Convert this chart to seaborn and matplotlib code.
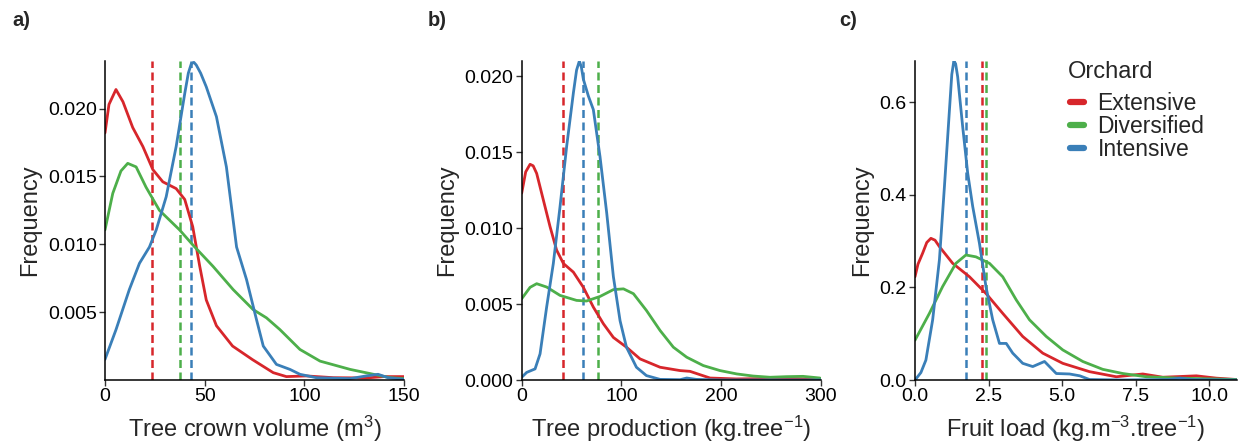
import numpy as np
import pandas as pd
import matplotlib
matplotlib.use("Agg")
import matplotlib.pyplot as plt
from matplotlib.lines import Line2D
import seaborn as sns

# ---------------- data ----------------
orchards = ["Extensive", "Diversified", "Intensive"]
colors = {"Extensive": "#D7262B", "Diversified": "#4DAF4A", "Intensive": "#3A7FB8"}

# Panel a: tree crown volume
a_ext_x = [0, 2, 5.5, 9, 13.9, 19, 24, 29, 35.7, 40, 44, 47.5, 50.8, 55.9, 64, 74, 84.4, 91, 101, 114.6, 131, 140, 150]
a_ext_y = [0.0182, 0.0203, 0.0214, 0.0205, 0.0186, 0.0172, 0.0155, 0.0146, 0.0141, 0.0133, 0.0113, 0.0084, 0.0059, 0.0040, 0.0025, 0.0015, 0.00054, 0.00025, 0.0003, 0.00017, 0.00015, 0.00025, 0.00025]
a_div_x = [0, 3.9, 8, 11.4, 15.6, 20.6, 27.3, 37.4, 44, 54.2, 64.3, 74.3, 81, 87.7, 97.8, 107.9, 123, 134.7, 143, 150]
a_div_y = [0.01106, 0.01375, 0.0154, 0.01596, 0.0157, 0.0142, 0.0125, 0.01106, 0.00996, 0.00837, 0.00666, 0.00519, 0.00458, 0.00372, 0.00225, 0.00139, 0.00078, 0.00042, 0.00017, 0.0001]
a_int_x = [0, 5.5, 12.2, 17.3, 22.3, 25.7, 30.7, 35.7, 40, 41.8, 43.3, 44.6, 45.8, 48, 50.8, 55.9, 60.9, 66, 71, 76, 79.4, 86, 92.8, 97.8, 106, 123, 131, 137, 142, 150]
a_int_y = [0.00152, 0.0037, 0.00666, 0.0086, 0.0098, 0.01106, 0.0135, 0.0172, 0.0211, 0.0226, 0.0233, 0.0234, 0.0232, 0.0226, 0.0216, 0.0194, 0.0157, 0.0098, 0.0074, 0.00445, 0.0025, 0.00115, 0.00078, 0.00042, 0.00017, 0.0001, 0.0003, 0.00042, 0.00017, 0.00005]
a_means = [23.8, 37.4, 43.3]

# Panel b: tree production
b_ext_x = [0, 4, 8.4, 11.5, 15, 21.7, 28.4, 35, 41.8, 51.8, 61.8, 71.8, 81.9, 91.9, 105, 118.6, 138.7, 158.7, 168.7, 178.7, 188.8, 215, 265.6, 299]
b_ext_y = [0.0123, 0.0137, 0.0142, 0.0141, 0.0136, 0.01185, 0.0101, 0.00855, 0.00767, 0.0071, 0.0061, 0.0048, 0.0037, 0.0028, 0.00216, 0.00139, 0.00084, 0.00062, 0.00057, 0.00035, 0.00013, 0.00007, 0.00011, 0.00004]
b_div_x = [0, 8.4, 15, 25, 38.4, 55, 65, 78.5, 91.9, 102, 112, 125, 138.7, 152, 165.4, 182, 198.8, 215.5, 232, 249, 265.6, 282, 299]
b_div_y = [0.00535, 0.0061, 0.00634, 0.00612, 0.00557, 0.00524, 0.0052, 0.0055, 0.00595, 0.0060, 0.00568, 0.00458, 0.00326, 0.00216, 0.0015, 0.00095, 0.00062, 0.0004, 0.00026, 0.00018, 0.00022, 0.00024, 0.00013]
b_int_x = [0, 5, 13.4, 18.4, 25, 31.7, 38.4, 45.1, 51.8, 55, 57.8, 59.8, 61.8, 66.8, 71.8, 78.5, 85.2, 91.9, 98.6, 105, 115, 125, 138.7, 158.7, 165.4, 175, 198.8, 300]
b_int_y = [0.00018, 0.0005, 0.00073, 0.00172, 0.0048, 0.00767, 0.0114, 0.0154, 0.0189, 0.0204, 0.0210, 0.0206, 0.0198, 0.0187, 0.0178, 0.0147, 0.0110, 0.0068, 0.0039, 0.00216, 0.00084, 0.00029, 0.00004, 0.00002, 0.00013, 0.00004, 0.0, 0.0]
b_means = [41.8, 76.2, 61.8]

# Panel c: fruit load
c_ext_x = [0, 0.1, 0.26, 0.4, 0.54, 0.68, 0.83, 1.28, 1.85, 2.41, 2.98, 3.66, 4.34, 5.02, 5.93, 6.84, 7.74, 8.42, 9.56, 10.24, 10.94]
c_ext_y = [0.223, 0.25, 0.274, 0.297, 0.306, 0.302, 0.288, 0.252, 0.223, 0.187, 0.144, 0.094, 0.058, 0.036, 0.018, 0.007, 0.013, 0.006, 0.009, 0.004, 0.001]
c_div_x = [0, 0.49, 0.94, 1.39, 1.73, 2.07, 2.53, 2.98, 3.44, 3.89, 4.46, 5.02, 5.7, 6.38, 7.06, 7.86, 8.99, 10.94]
c_div_y = [0.086, 0.144, 0.202, 0.252, 0.27, 0.266, 0.252, 0.223, 0.173, 0.13, 0.094, 0.065, 0.04, 0.023, 0.014, 0.007, 0.004, 0.001]
c_int_x = [0, 0.2, 0.37, 0.6, 0.83, 1.0, 1.17, 1.25, 1.32, 1.38, 1.45, 1.62, 1.79, 1.96, 2.19, 2.41, 2.64, 2.87, 3.1, 3.32, 3.66, 4.0, 4.4, 4.8, 5.25, 5.6, 5.93, 7.0, 8.6, 9.0, 9.4, 10.94]
c_int_y = [0.0, 0.016, 0.043, 0.13, 0.26, 0.418, 0.583, 0.66, 0.689, 0.683, 0.655, 0.547, 0.447, 0.375, 0.295, 0.202, 0.13, 0.079, 0.079, 0.058, 0.036, 0.029, 0.04, 0.014, 0.013, 0.009, 0.001, 0.0, 0.001, 0.004, 0.001, 0.0]
c_means = [2.28, 2.42, 1.73]

panel_labels = ["a)", "b)", "c)"]
x_labels = ["Tree crown volume (m$^{3}$)", "Tree production (kg.tree$^{-1}$)",
            "Fruit load (kg.m$^{-3}$.tree$^{-1}$)"]
y_label = "Frequency"
a_xticks = [0, 50, 100, 150]
a_yticks = [0.005, 0.010, 0.015, 0.020]
b_xticks = [0, 100, 200, 300]
b_yticks = [0.000, 0.005, 0.010, 0.015, 0.020]
c_xticks = [0.0, 2.5, 5.0, 7.5, 10.0]
c_yticks = [0.0, 0.2, 0.4, 0.6]
legend_title = "Orchard"

# ---------------- style ----------------
sns.set_theme(style="ticks")
plt.rcParams["font.family"] = ["Liberation Sans", "DejaVu Sans"]
plt.rcParams["mathtext.default"] = "regular"


def long_df(xs, ys):
    frames = []
    for name, x, y in zip(orchards, xs, ys):
        frames.append(pd.DataFrame({"x": x, "y": y, "Orchard": name}))
    return pd.concat(frames, ignore_index=True)


W, H = 1239, 444
fig = plt.figure(figsize=(W / 100, H / 100), dpi=100)

boxes = [(105, 404), (521.7, 821), (915, 1237)]
top_px, bot_px = 61, 380

panels = [
    (long_df([a_ext_x, a_div_x, a_int_x], [a_ext_y, a_div_y, a_int_y]), a_means,
     (0, 150), (0, 0.0235), a_xticks, a_yticks, "{:.0f}", "{:.3f}"),
    (long_df([b_ext_x, b_div_x, b_int_x], [b_ext_y, b_div_y, b_int_y]), b_means,
     (0, 300), (0, 0.021), b_xticks, b_yticks, "{:.0f}", "{:.3f}"),
    (long_df([c_ext_x, c_div_x, c_int_x], [c_ext_y, c_div_y, c_int_y]), c_means,
     (0, 10.94), (0, 0.689), c_xticks, c_yticks, "{:.1f}", "{:.1f}"),
]

label_x = [12, 428, 839]
ylabel_x = [30, 447, 862]

for i, ((l, r), (df, means, xl, yl, xt, yt, xf, yf)) in enumerate(zip(boxes, panels)):
    ax = fig.add_axes([l / W, (H - bot_px) / H, (r - l) / W, (bot_px - top_px) / H])
    sns.lineplot(data=df, x="x", y="y", hue="Orchard", hue_order=orchards,
                 palette=colors, estimator=None, sort=False, lw=2.0, ax=ax,
                 legend=False)
    for name, m in zip(orchards, means):
        ax.axvline(m, color=colors[name], lw=1.8, ls=(0, (3.2, 1.8)), zorder=1)
    ax.set_xlim(*xl)
    ax.set_ylim(*yl)
    ax.set_xticks(xt)
    ax.set_xticklabels([xf.format(v) for v in xt])
    ax.set_yticks(yt)
    ax.set_yticklabels([yf.format(v) for v in yt])
    ax.tick_params(axis="both", labelsize=14, length=4, width=1, color="#333333",
                   labelcolor="black", pad=2)
    sns.despine(ax=ax)
    for s in ["left", "bottom"]:
        ax.spines[s].set_color("black")
        ax.spines[s].set_linewidth(1.1)
    ax.set_xlabel(x_labels[i], fontsize=17, labelpad=6)
    ax.set_ylabel("")
    fig.text(ylabel_x[i] / W, (H - (top_px + bot_px) / 2) / H, y_label,
             rotation=90, ha="center", va="center", fontsize=17)
    fig.text(label_x[i] / W, 1 - 21 / H, panel_labels[i], fontsize=14.5,
             fontweight="bold", ha="left", va="center")
    if i == 2:
        fig.text(1068 / W, 1 - 72 / H, legend_title, fontsize=17,
                 ha="left", va="center")
        handles = [Line2D([0], [0], color=colors[n], lw=4.5) for n in orchards]
        ax.legend(handles, orchards, loc="upper left",
                  bbox_to_anchor=((1070 - l) / (r - l), 1 - (92 - top_px) / (bot_px - top_px)),
                  frameon=False, fontsize=16.5, borderpad=0,
                  handlelength=0.6, handletextpad=0.6, labelspacing=0.0,
                  borderaxespad=0)

fig.savefig("out.png", dpi=100)
